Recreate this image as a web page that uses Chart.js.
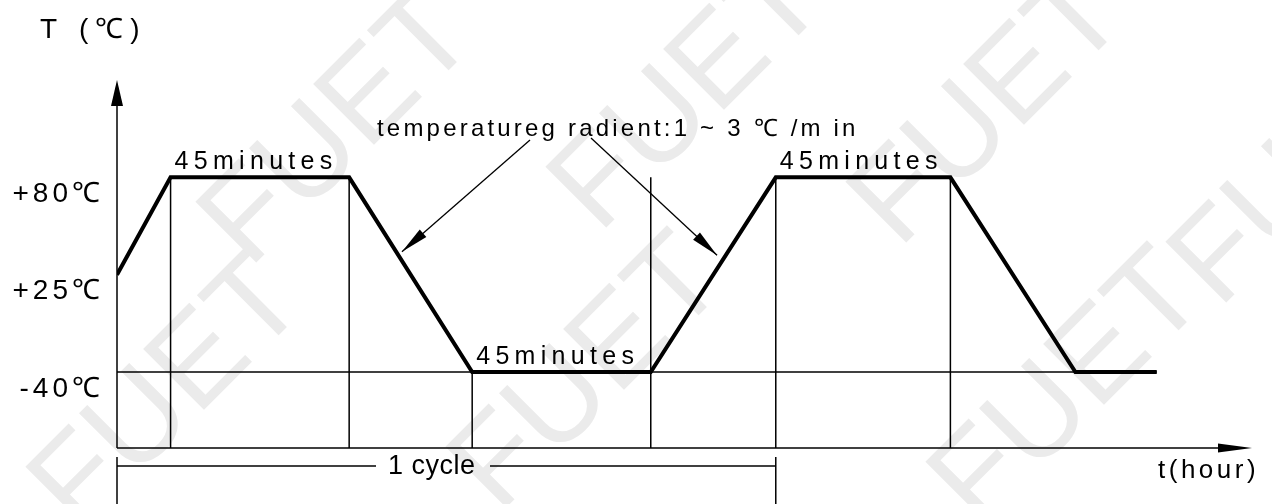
<!DOCTYPE html>
<html>
<head>
<meta charset="utf-8">
<script src="https://cdn.jsdelivr.net/npm/chart.js@4.4.1/dist/chart.umd.min.js"></script>
<style>
  html, body { margin: 0; padding: 0; background: #fff; }
  #wrap { width: 1272px; height: 504px; }
</style>
</head>
<body>
<div id="wrap"><canvas id="cycleChart" width="1272" height="504"></canvas></div>
<script>
// y axis levels (schematic, evenly spaced)
const tempLevels = [-40, 25, 80];
const tempLabels = ['-40℃', '+25℃', '+80℃'];

// temperature profile corners: time (min) and temperature (℃)
const profileTime = [0, 13.5, 58.5, 89.5, 134.5, 166, 210, 241.5, 262];
const profileTemp = [25, 80, 80, -40, -40, 80, 80, -40, -40];

// thin vertical guides: time and how high they reach
const guideTime = [13.5, 58.5, 89.5, 134.5, 166, 210];
const guideTemp = [80, 80, -40, 80, 80, 80];

// dwell periods
const holdStart = [13.5, 89.5, 166];
const holdTemp = [80, -40, 80];
const holdText = '45minutes';

// gradient note and where its arrows point
const gradientText = 'temperatureg radient:1 ~ 3 ℃ /m in';
const arrowTime = [71.8, 151.2];
const arrowTemp = [38, 36];

// one cycle
const cycleStart = 0;
const cycleEnd = 166;

const FONT = '"Liberation Sans", Arial, sans-serif';
const Y_MIN = -0.78, Y_MAX = 3.0;

// map a temperature onto the evenly spaced schematic levels
function level(t) {
    for (let i = 0; i < tempLevels.length - 1; i++) {
        if (t <= tempLevels[i + 1] || i === tempLevels.length - 2) {
            return i + (t - tempLevels[i]) / (tempLevels[i + 1] - tempLevels[i]);
        }
    }
    return 0;
}

const profileData = profileTime.map((t, i) => ({ x: t, y: level(profileTemp[i]) }));
const guideData = [];
guideTime.forEach((t, i) => {
    guideData.push({ x: t, y: Y_MIN }, { x: t, y: level(guideTemp[i]) }, { x: t, y: null });
});
const baseData = [
    { x: profileTime[0], y: level(-40) },
    { x: profileTime[profileTime.length - 1], y: level(-40) }
];

function drawText(ctx, str, x, y, size, spacing, align, baseline) {
    ctx.save();
    ctx.font = size + 'px ' + FONT;
    ctx.letterSpacing = spacing + 'px';
    ctx.textAlign = align || 'left';
    ctx.textBaseline = baseline || 'alphabetic';
    ctx.fillStyle = '#000';
    ctx.fillText(str, x, y);
    ctx.restore();
}

function arrowHead(ctx, x0, y0, x1, y1, len, half) {
    const a = Math.atan2(y1 - y0, x1 - x0);
    const c = Math.cos(a), s = Math.sin(a);
    ctx.beginPath();
    ctx.moveTo(x1, y1);
    ctx.lineTo(x1 - len * c + half * s, y1 - len * s - half * c);
    ctx.lineTo(x1 - len * c - half * s, y1 - len * s + half * c);
    ctx.closePath();
    ctx.fill();
}

function line(ctx, x0, y0, x1, y1) {
    ctx.beginPath();
    ctx.moveTo(x0, y0);
    ctx.lineTo(x1, y1);
    ctx.stroke();
}

const watermark = {
    id: 'watermark',
    beforeDraw(chart) {
        const ctx = chart.ctx;
        ctx.save();
        ctx.fillStyle = '#fff';
        ctx.fillRect(0, 0, chart.width, chart.height);
        ctx.fillStyle = '#ebebeb';
        ctx.font = '125px ' + FONT;
        ctx.textAlign = 'center';
        ctx.textBaseline = 'middle';
        const spots = [[170, 395], [340, 130], [590, 375], [690, 95], [1070, 390], [990, 110], [1310, 170]];
        spots.forEach(([x, y]) => {
            ctx.save();
            ctx.translate(x, y);
            ctx.rotate(-Math.PI / 4);
            ctx.fillText('FUET', 0, 0);
            ctx.restore();
        });
        ctx.restore();
        // spacing for the tick labels drawn by Chart.js
        ctx.letterSpacing = '4px';
    }
};

const annotations = {
    id: 'annotations',
    afterDraw(chart) {
        const ctx = chart.ctx;
        ctx.letterSpacing = '0px';
        const { left, right, top, bottom } = chart.chartArea;
        const xs = chart.scales.x, ys = chart.scales.y;

        ctx.save();
        ctx.strokeStyle = '#000';
        ctx.fillStyle = '#000';
        ctx.lineWidth = 1.5;

        // axes with arrows
        line(ctx, left, bottom, left, top + 20);
        arrowHead(ctx, left, bottom, left, top, 26, 6);
        line(ctx, left, bottom, right - 25, bottom);
        arrowHead(ctx, left, bottom, right, bottom, 34, 4.5);

        // gradient arrows
        const tails = [[530, 140], [591, 138]];
        arrowTime.forEach((t, i) => {
            const tx = xs.getPixelForValue(t), ty = ys.getPixelForValue(level(arrowTemp[i]));
            ctx.lineWidth = 1.3;
            line(ctx, tails[i][0], tails[i][1], tx, ty);
            arrowHead(ctx, tails[i][0], tails[i][1], tx, ty, 28, 5);
        });

        // one cycle dimension
        const c0 = xs.getPixelForValue(cycleStart), c1 = xs.getPixelForValue(cycleEnd);
        ctx.lineWidth = 1.5;
        line(ctx, c0, 457, c0, 504);
        line(ctx, c1, 457, c1, 504);
        line(ctx, c0, 466, 376, 466);
        line(ctx, 490, 466, c1, 466);
        ctx.restore();

        drawText(ctx, '1 cycle', 388, 467, 27, 0.5, 'left', 'middle');
        drawText(ctx, 'T (℃)', 40, 30, 28, 7, 'left', 'middle');
        drawText(ctx, 't(hour)', 1158, 471, 26, 3.5, 'left', 'middle');
        drawText(ctx, gradientText, 377, 136, 24, 3.2);
        holdStart.forEach((t, i) => {
            drawText(ctx, holdText, xs.getPixelForValue(t) + 4,
                ys.getPixelForValue(level(holdTemp[i])) - 8, 25, 5.3);
        });
    }
};

new Chart(document.getElementById('cycleChart'), {
    type: 'line',
    data: {
        datasets: [
            { label: 'profile', data: profileData, borderColor: '#000', borderWidth: 4,
              pointRadius: 0, tension: 0, borderJoinStyle: 'miter', order: 0 },
            { label: 'guides', data: guideData, borderColor: '#000', borderWidth: 1.5,
              pointRadius: 0, spanGaps: false, order: 1 },
            { label: 'base', data: baseData, borderColor: '#000', borderWidth: 1.5,
              pointRadius: 0, order: 1 }
        ]
    },
    options: {
        responsive: false,
        animation: false,
        events: [],
        layout: { padding: { top: 80, right: 20, left: 0, bottom: 56 } },
        plugins: { legend: { display: false }, tooltip: { enabled: false } },
        scales: {
            x: { type: 'linear', min: 0, max: 286, display: false },
            y: {
                type: 'linear', min: Y_MIN, max: Y_MAX,
                grid: { display: false, drawTicks: false }, border: { display: false },
                afterBuildTicks: s => { s.ticks = tempLevels.map(t => ({ value: level(t) })); },
                ticks: {
                    callback: (v, i) => tempLabels[i],
                    color: '#000', font: { family: FONT, size: 28 },
                    padding: 13, labelOffset: 17, autoSkip: false
                },
                afterFit: s => { s.width = 117; }
            }
        }
    },
    plugins: [watermark, annotations]
});
</script>
</body>
</html>
